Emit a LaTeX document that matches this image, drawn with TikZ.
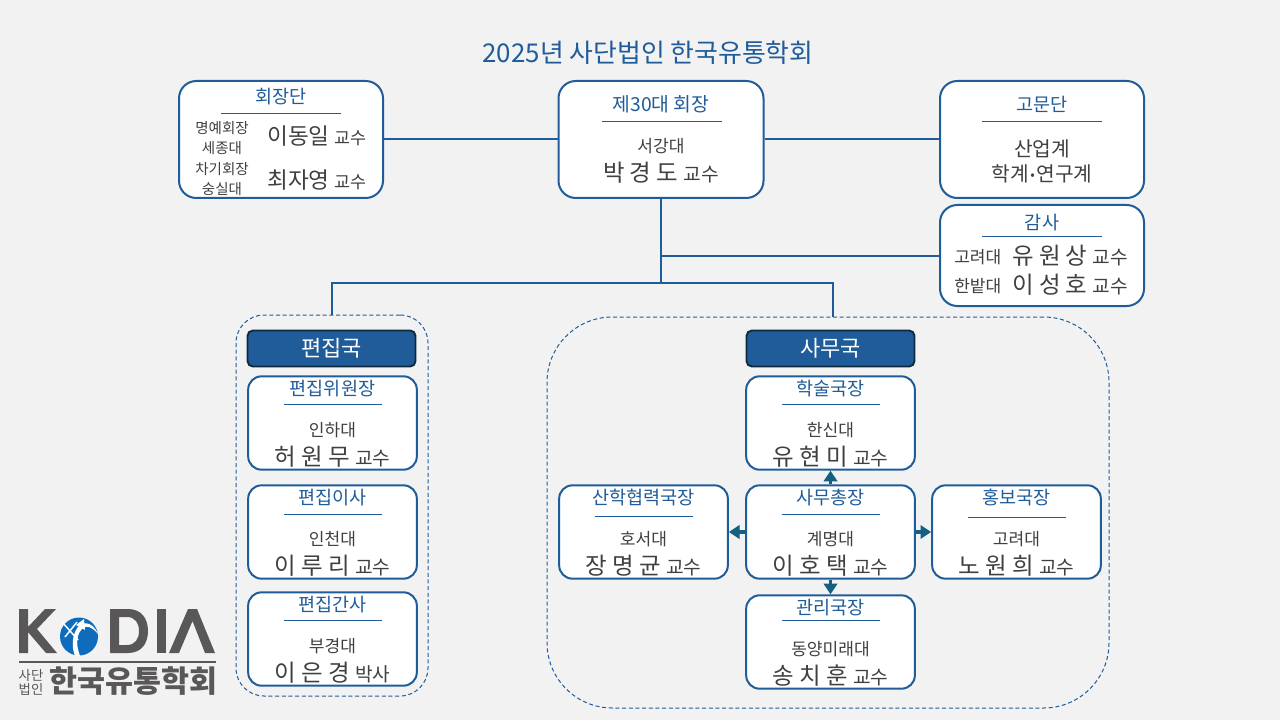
\documentclass[tikz,border=0pt]{standalone}
\usepackage{fontspec}
\setmainfont{Noto Sans CJK KR}
\usetikzlibrary{arrows.meta}
\definecolor{bluemain}{HTML}{1F5C99}
\definecolor{arrowblue}{HTML}{156082}
\definecolor{txt}{HTML}{404040}
\definecolor{logogray}{HTML}{595757}
\definecolor{globe}{HTML}{0F6CBD}
\definecolor{headedge}{HTML}{0F2A3D}
\newcommand{\fs}[1]{\fontsize{#1}{#1}\selectfont}
\tikzset{
  x=0.75pt,y=-0.75pt,
  card/.style={draw=bluemain,fill=white,line width=1.5pt,rounded corners=13pt,inner sep=0pt,anchor=center},
  zone/.style={draw=bluemain,dash pattern=on 3pt off 2pt,line width=0.75pt,inner sep=0pt,anchor=center},
  head/.style={draw=headedge,fill=bluemain,line width=1.4pt,rounded corners=4pt,inner sep=0pt,minimum width=126pt,minimum height=27pt,text=white,font=\fs{16.5}},
  link/.style={draw=bluemain,line width=1.5pt},
  twin/.style={draw=arrowblue,line width=2.8pt,-{Triangle[width=10pt,length=8pt]}},
  ttl/.style={text=bluemain,font=\fs{13.9},inner sep=0pt},
  sub/.style={text=txt,font=\fs{12.8},inner sep=0pt},
  small/.style={text=txt,font=\fs{10.9},inner sep=0pt,align=center},
  who/.style={text=txt,font=\fs{17.6},inner sep=0pt},
  rul/.style={draw=bluemain,line width=0.75pt},
  logotext/.style={text=logogray,inner sep=0pt},
}
% id, cx, top, title, affiliation, person, suffix, rule y
\newcommand{\member}[8]{%
  \node[card,rounded corners=10pt,minimum width=126.5pt,minimum height=70pt] (#1) at (#2,#3+47) {};
  \node[ttl] (#1t) at (#2,#3+12.5) {#4};
  \coordinate (#1a) at (#2-49,#8);
  \coordinate (#1b) at (#2+49,#8);
  \draw[rul] (#1a) -- (#1b);
  \node[sub] (#1u) at (#2,#3+54.5) {#5};
  \node[who] (#1n) at (#2,#3+80.5) {#6 {\fs{14.4}#7}};
}
\begin{document}
\begin{tikzpicture}
\useasboundingbox (0,0) rectangle (1280,720);
\fill[black!5] (0,0) rectangle (1280,720);
\node[text=bluemain,font=\fs{19.4},inner sep=0pt] (title) at (648,53) {2025년 사단법인 한국유통학회};

% dashed zones
\node[zone,rounded corners=21pt,minimum width=144pt,minimum height=285.75pt] (edit) at (332,505.5) {};
\node[zone,rounded corners=49pt,minimum width=421.5pt,minimum height=293.25pt] (office) at (828,512.5) {};

% top cards
\node[card,minimum width=153pt,minimum height=87.75pt] (board) at (281,139.5) {};
\node[card,minimum width=153.75pt,minimum height=87.75pt] (pres) at (661,139.5) {};
\node[card,minimum width=153pt,minimum height=87.75pt] (adv) at (1042,139.5) {};
\node[card,minimum width=153pt,minimum height=75.75pt] (audit) at (1042,255.5) {};

% connectors
\coordinate (j1) at (661,283);
\coordinate (j2) at (833,283);
\coordinate (j3) at (833,317);
\draw[link] (board.east) -- (pres.west);
\draw[link] (pres.east) -- (adv.west);
\draw[link] (pres.south) -- (j1);
\draw[link] (pres.south |- audit.west) -- (audit.west);
\draw[link] (edit.north) |- (j1) -- (j2) -- (j3);

% board
\node[ttl] (boardt) at (281,96.5) {회장단};
\coordinate (boarda) at (221,113.5);
\coordinate (boardb) at (341,113.5);
\draw[rul] (boarda) -- (boardb);
\node[small] (b1) at (222,128.5) {명예회장};
\node[small] (b2) at (222,148.5) {세종대};
\node[small] (b3) at (222,169.5) {차기회장};
\node[small] (b4) at (222,189.5) {숭실대};
\node[who,font=\fs{17},anchor=west] (b5) at (267,136.5) {이동일 {\fs{13}교수}};
\node[who,font=\fs{17},anchor=west] (b6) at (267,180.5) {최자영 {\fs{13}교수}};

% president
\node[ttl,font=\fs{14.5}] (prest) at (661,104.5) {제30대 회장};
\coordinate (presa) at (602,121.5);
\coordinate (presb) at (722,121.5);
\draw[rul] (presa) -- (presb);
\node[sub] (presu) at (661,146.5) {서강대};
\node[who] (presn) at (661,172.5) {박 경 도 {\fs{14.4}교수}};

% advisers
\node[ttl] (advt) at (1042,104.5) {고문단};
\coordinate (adva) at (982,121.5);
\coordinate (advb) at (1102,121.5);
\draw[rul] (adva) -- (advb);
\node[text=txt,font=\fs{15.2},inner sep=0pt] (adv1) at (1042,148.5) {산업계};
\node[text=txt,font=\fs{15.2},inner sep=0pt] (adv2) at (1042,173.5) {학계\hspace{0.08em}\raisebox{0.08em}{\fs{10}•}\hspace{0.08em}연구계};

% audit
\node[ttl] (audt) at (1042,222.5) {감사};
\coordinate (auda) at (982,236.5);
\coordinate (audb) at (1102,236.5);
\draw[rul] (auda) -- (audb);
\node[sub,anchor=west] (aud1) at (954,257) {고려대};
\node[sub,anchor=west] (aud2) at (954,286.5) {한밭대};
\node[who,anchor=west] (aud3) at (1012,255.5) {유 원 상 {\fs{14.4}교수}};
\node[who,anchor=west] (aud4) at (1012,284.5) {이 성 호 {\fs{14.4}교수}};

% headers
\node[head] (edith) at (331.5,348.5) {편집국};
\node[head] (offh) at (830.5,348.5) {사무국};

% members
\member{m1}{332.5}{376}{편집위원장}{인하대}{허 원 무}{교수}{404}
\member{m2}{332.5}{485}{편집이사}{인천대}{이 루 리}{교수}{514}
\member{m3}{332.5}{592}{편집간사}{부경대}{이 은 경}{박사}{620}
\member{s1}{830.5}{376}{학술국장}{한신대}{유 현 미}{교수}{404}
\member{s2}{830.5}{485}{사무총장}{계명대}{이 호 택}{교수}{514}
\member{s3}{830.5}{595}{관리국장}{동양미래대}{송 치 훈}{교수}{620}
\member{s4}{643.5}{485}{산학협력국장}{호서대}{장 명 균}{교수}{516}
\member{s5}{1016.5}{485}{홍보국장}{고려대}{노 원 희}{교수}{517}

% arrows
\draw[twin] (s2.north) -- (s1.south);
\draw[twin] (s2.south) -- (s3.north);
\draw[twin] (s2.west) -- (s4.east);
\draw[twin] (s2.east) -- (s5.west);

% logo
\fill[logogray] (19,609) -- (28,609) -- (28,627) -- (45,609) -- (56,609) -- (37,629) -- (57,653) -- (46,653) -- (28,632) -- (28,653) -- (19,653) -- cycle;
\fill[globe] (79,636.5) circle (19);
\draw[white,line width=1.1pt] (63,623) -- (78,640);
\draw[white,line width=1.1pt] (65,637) -- (77,622);
\fill[white] (98,634) .. controls (90,624) and (82,624) .. (78,636) .. controls (76,644) and (78,650) .. (80,656) -- (75,656) .. controls (72,648) and (72,640) .. (75,632) .. controls (80,620) and (92,620) .. (98,634) -- cycle;
\fill[white] (84,619) -- (76,625) -- (85,630) -- cycle;
\fill[logogray,even odd rule] (110,609) -- (128,609) .. controls (141,609) and (148,618) .. (148,631) .. controls (148,644) and (141,653) .. (128,653) -- (110,653) -- cycle
  (119,617) -- (119,645) -- (127,645) .. controls (135,645) and (139,639) .. (139,631) .. controls (139,623) and (135,617) .. (127,617) -- cycle;
\fill[logogray] (157,609) rectangle (166,653);
\fill[logogray] (169,653) -- (188,609) -- (197,609) -- (215,653) -- (205,653) -- (192.5,621) -- (179,653) -- cycle;
\coordinate (logoa) at (19,662);
\coordinate (logob) at (216,662);
\draw[logogray,line width=1.2pt] (logoa) -- (logob);
\node[logotext,font=\fs{10},align=center] (logo1) at (31,675) {사단};
\node[logotext,font=\fs{10},align=center] (logo2) at (31,689) {법인};
\node[logotext,font=\bfseries\fs{22.8},anchor=west] (logo3) at (49,681) {한국유통학회};
\end{tikzpicture}
\end{document}
